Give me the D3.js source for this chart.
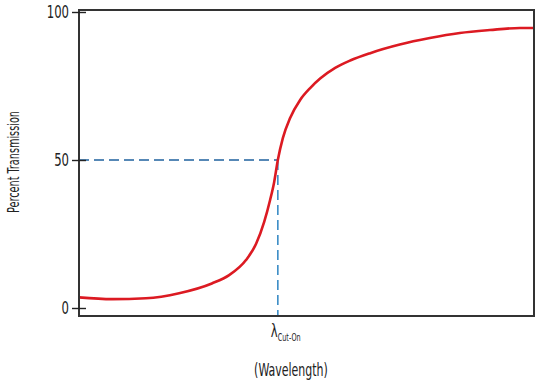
<!DOCTYPE html>
<html><head><meta charset="utf-8">
<script src="https://cdn.jsdelivr.net/npm/d3@7"></script>
<style>body{margin:0;background:#fff}svg{display:block}
text{font-family:"DejaVu Sans Condensed","DejaVu Sans",sans-serif;font-stretch:condensed;fill:#222}</style>
</head><body><svg id="c" width="550" height="383"></svg>
<script>
const wavelength = [0, 7.3, 14.7, 22.0, 29.2, 33.0, 36.7, 38.9, 40.7, 42.0, 42.9, 43.7, 44.8, 46.4, 48.6, 50.8, 53.0, 56.3, 59.6, 64.0, 70.5, 77.1, 83.7, 90.3, 96.9, 100];
const transmission = [3.6, 3.0, 3.3, 5.0, 8.3, 11.1, 16.2, 21.6, 29.1, 36.5, 42.6, 50, 57.4, 64.2, 70.3, 74.3, 77.5, 81.1, 83.6, 86.1, 89.0, 91.2, 92.9, 93.9, 94.6, 94.6];
const yTicks = [0, 50, 100];
const cutOn = 43.7;
const cutOnValue = 50;

const svg = d3.select("#c");
const L = 79, R = 534, T = 10, B = 316;
const x = d3.scaleLinear().domain([0, 100]).range([L, R]);
const y = d3.scaleLinear().domain([0, 100]).range([308, 12]);
const SX = 0.72;

function label(px, py, txt, size, anchor, rot) {
  const g = svg.append("g").attr("transform", `translate(${px},${py})` + (rot ? ` rotate(${rot})` : "") + ` scale(${SX},1)`);
  return g.append("text").attr("text-anchor", anchor).attr("font-size", size).text(txt);
}

// dashed guides
svg.append("line").attr("x1", L).attr("x2", x(cutOn)).attr("y1", y(cutOnValue)).attr("y2", y(cutOnValue))
  .attr("stroke", "#1f629e").attr("stroke-width", 1.6).attr("stroke-dasharray", "10,5");
svg.append("line").attr("x1", x(cutOn)).attr("x2", x(cutOn)).attr("y1", y(cutOnValue)).attr("y2", B)
  .attr("stroke", "#3b8cc6").attr("stroke-width", 1.6).attr("stroke-dasharray", "10,5");

// curve
const pts = wavelength.map((w, i) => [w, transmission[i]]);
svg.append("path").datum(pts)
  .attr("d", d3.line().x(d => x(d[0])).y(d => y(d[1])).curve(d3.curveMonotoneX))
  .attr("fill", "none").attr("stroke", "#dc1a22").attr("stroke-width", 2.6);

// frame
svg.append("rect").attr("x", L).attr("y", T).attr("width", R - L).attr("height", B - T)
  .attr("fill", "none").attr("stroke", "#333").attr("stroke-width", 2);

// y axis ticks crossing the frame
const ax = svg.append("g").attr("transform", `translate(${L},0)`)
  .call(d3.axisLeft(y).tickValues(yTicks).tickSize(7).tickFormat(""));
ax.select(".domain").remove();
ax.selectAll(".tick line").attr("x1", -7).attr("x2", 7).attr("stroke", "#222").attr("stroke-width", 1.4);
yTicks.forEach(t => label(L - 10, y(t) + 6, d3.format("d")(t), 18, "end"));

// labels
label(19, 162, "Percent Transmission", 15, "middle", -90);
label(291, 376, "(Wavelength)", 17, "middle");
const lt = label(x(cutOn) - 7, 337, "", 18, "start");
lt.append("tspan").text("λ");
lt.append("tspan").attr("font-size", 10).attr("dy", 4).text("Cut-On");
</script></body></html>
